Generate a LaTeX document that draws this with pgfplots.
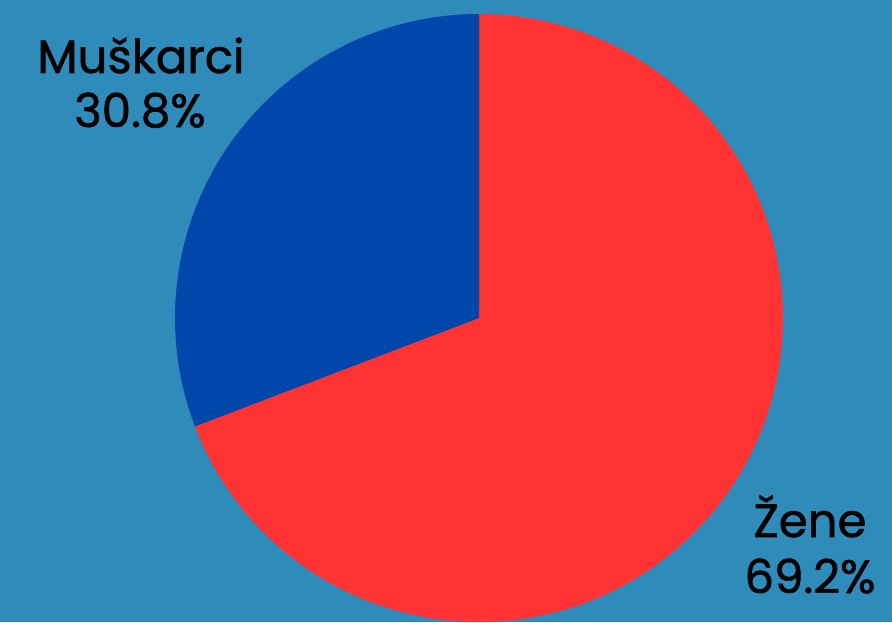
\documentclass[border=0pt]{standalone}
\usepackage{pgfplots}
\pgfplotsset{compat=1.18}
\usepackage{fontspec}
\setmainfont{Poppins}[FakeBold=1.2]
\definecolor{bgblue}{HTML}{2E8BBA}
\definecolor{muski}{HTML}{0047AB}
\definecolor{zene}{HTML}{FF3333}

% share of each group, percent
\def\muskarci{30.8}
\def\zene{69.2}

\begin{document}
\begin{tikzpicture}
  \begin{axis}[
      scale only axis,
      width=669pt, height=466.5pt,
      xmin=0, xmax=892, ymin=0, ymax=622,
      hide axis,
    ]
    \addplot[draw=none] coordinates {(0,0) (892,622)};
    \coordinate (ll) at (axis cs:0,0);
    \coordinate (ur) at (axis cs:892,622);
    \coordinate (c) at (axis cs:479,304);
    \coordinate (top) at (axis cs:479,608);
    \coordinate (lm1) at (axis cs:141,549);
    \coordinate (lm2) at (axis cs:140,495);
    \coordinate (lz1) at (axis cs:810,85);
    \coordinate (lz2) at (axis cs:810,29);
  \end{axis}
  \fill[bgblue] (ll) rectangle (ur);
  % pie radius 304 px = 228pt
  \fill[zene] (c) -- (top)
    arc[start angle=90, delta angle=-3.6*\zene, radius=228pt] -- cycle;
  \fill[muski] (c) -- (top)
    arc[start angle=90, delta angle=3.6*\muskarci, radius=228pt] -- cycle;
  \begin{scope}[every node/.style={anchor=base, font=\fontsize{35}{42}\selectfont}]
    \node at (lm1) {Muškarci};
    \node at (lm2) {30.8\%};
    \node at (lz1) {Žene};
    \node at (lz2) {69.2\%};
  \end{scope}
\end{tikzpicture}
\end{document}
